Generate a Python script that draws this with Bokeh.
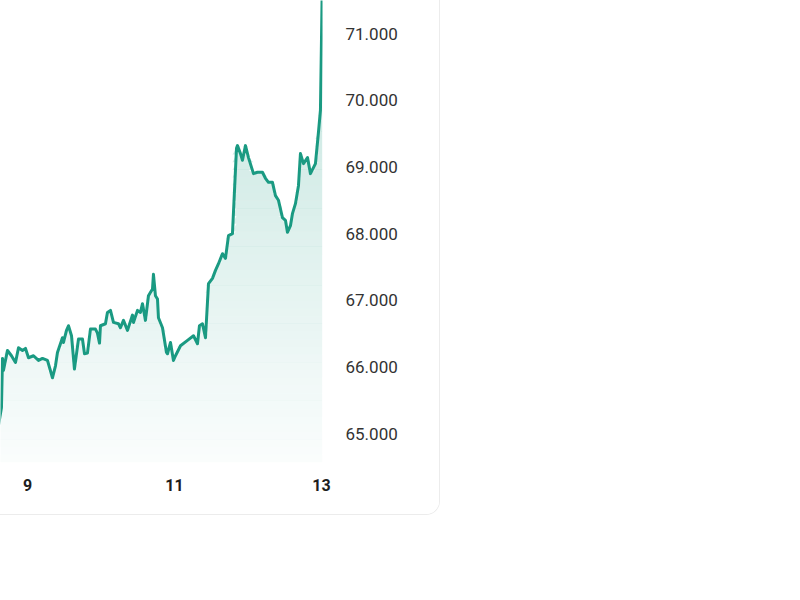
import numpy as np
from bokeh.plotting import figure
from bokeh.models import Range1d, FixedTicker, CustomJSTickFormatter
from bokeh.embed import file_html
from bokeh.resources import INLINE

# ---- data (day of month, price) ----
days = [8.605, 8.646, 8.660, 8.673, 8.728, 8.782, 8.837, 8.878, 8.932, 8.973,
        9.014, 9.082, 9.150, 9.204, 9.272, 9.340, 9.381, 9.408, 9.476, 9.490,
        9.531, 9.558, 9.599, 9.639, 9.694, 9.748, 9.776, 9.816, 9.857, 9.925,
        9.952, 9.980, 9.993, 10.061, 10.088, 10.129, 10.170, 10.238, 10.265, 10.306,
        10.361, 10.429, 10.442, 10.497, 10.537, 10.565, 10.605, 10.646, 10.701, 10.714,
        10.741, 10.769, 10.782, 10.837, 10.891, 10.905, 10.946, 10.986, 11.014, 11.082,
        11.177, 11.259, 11.313, 11.340, 11.381, 11.422, 11.463, 11.517, 11.558, 11.599,
        11.653, 11.694, 11.735, 11.789, 11.844, 11.857, 11.898, 11.925, 11.966, 12.007,
        12.075, 12.129, 12.197, 12.238, 12.279, 12.333, 12.374, 12.415, 12.469, 12.510,
        12.537, 12.578, 12.605, 12.646, 12.687, 12.714, 12.755, 12.810, 12.850, 12.918,
        12.959, 12.986, 13.000, 13.012]

prices = [65120, 65390, 66130, 65950, 66250, 66170, 66070, 66290, 66250, 66280,
          66140, 66170, 66100, 66130, 66100, 65840, 66020, 66220, 66440, 66370,
          66550, 66620, 66470, 65970, 66420, 66420, 66200, 66210, 66570, 66570,
          66510, 66360, 66620, 66650, 66820, 66850, 66670, 66650, 66590, 66700,
          66550, 66780, 66670, 66850, 66820, 66950, 66700, 67070, 67170, 67390,
          67070, 67020, 66740, 66590, 66220, 66200, 66370, 66100, 66170, 66320,
          66400, 66470, 66350, 66620, 66650, 66440, 67250, 67330, 67450, 67550,
          67700, 67630, 67970, 68000, 69280, 69320, 69200, 69100, 69320, 69140,
          68900, 68920, 68920, 68830, 68770, 68770, 68570, 68500, 68240, 68200,
          68020, 68120, 68300, 68450, 68720, 69200, 69050, 69140, 68900, 69050,
          69520, 69850, 70900, 71800]

x_ticks = [9, 11, 13]
y_ticks = [65000, 66000, 67000, 68000, 69000, 70000, 71000]

LINE = "#1a9a82"
X0, X1 = 8.633, 13.014
Y0, Y1 = 64570, 71495

p = figure(width=440, height=515, output_backend="svg", toolbar_location=None,
           x_range=Range1d(X0, X1), y_range=Range1d(Y0, Y1),
           y_axis_location="right",
           min_border_left=0, min_border_top=0, min_border_right=118, min_border_bottom=53)
p.outline_line_color = None
p.grid.grid_line_color = None
p.background_fill_color = "white"
p.border_fill_color = "white"
p.styles = {"border-right": "1px solid #ececec", "border-bottom": "1px solid #ececec",
            "border-bottom-right-radius": "14px", "overflow": "hidden"}

# gradient area under line, built as horizontal bands
pr = np.array(prices, dtype=float)
edges = np.linspace(Y0, Y1, 61)
for a, b in zip(edges[:-1], edges[1:]):
    top = np.clip(pr, a, b + 1)
    frac = ((a + b) / 2 - Y0) / (Y1 - Y0)
    alpha = 0.02 + 0.25 * frac
    p.varea(x=days, y1=np.full(len(days), a), y2=top,
            fill_color=LINE, fill_alpha=alpha)

p.line(days, prices, line_color=LINE, line_width=3, line_join="round")

# axes
xa = p.xaxis[0]
xa.ticker = FixedTicker(ticks=x_ticks)
xa.axis_line_color = None
xa.major_tick_line_color = None
xa.minor_tick_line_color = None
xa.major_label_standoff = 10
xa.major_label_text_font = "Roboto"
xa.major_label_text_font_size = "16px"
xa.major_label_text_font_style = "bold"
xa.major_label_text_color = "#1e1e1e"

ya = p.yaxis[0]
ya.ticker = FixedTicker(ticks=y_ticks)
ya.formatter = CustomJSTickFormatter(code="""
return Math.round(tick).toString().replace(/\\B(?=(\\d{3})+(?!\\d))/g, '.');
""")
ya.axis_line_color = None
ya.major_tick_line_color = None
ya.minor_tick_line_color = None
ya.major_label_standoff = 17
ya.major_label_text_font = "Roboto"
ya.major_label_text_font_size = "17px"
ya.major_label_text_color = "#333333"

open("out.html", "w").write(file_html(p, INLINE))
